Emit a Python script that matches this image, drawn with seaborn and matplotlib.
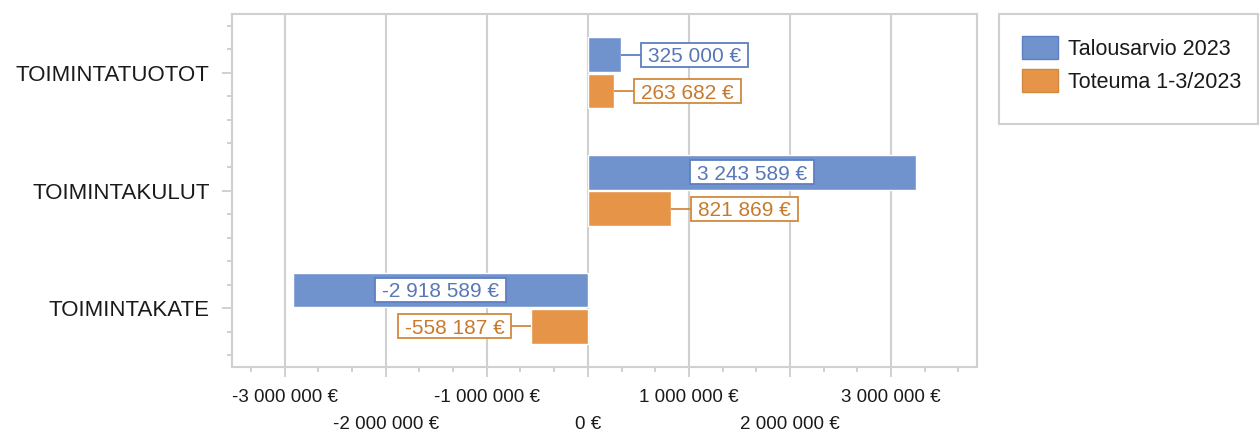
import pandas as pd
import seaborn as sns
import matplotlib.pyplot as plt
from matplotlib.ticker import MultipleLocator, FixedLocator
from matplotlib.patches import Patch, Rectangle
from matplotlib.transforms import IdentityTransform, offset_copy

categories = ['TOIMINTATUOTOT', 'TOIMINTAKULUT', 'TOIMINTAKATE']
series = ['Talousarvio 2023', 'Toteuma 1-3/2023']
budget = [325000, 3243589, -2918589]
actual = [263682, 821869, -558187]
x_ticks = [-3000000, -2000000, -1000000, 0, 1000000, 2000000, 3000000]

bar_colors = ['#7093CD', '#E69548']
edge_colors = ['#5E7FC0', '#D2893F']
text_colors = ['#5877B6', '#C77A2E']

def eur(v):
    return f"{v:,.0f}".replace(',', ' ') + ' €'

df = pd.DataFrame({
    'kategoria': categories * 2,
    'arvo': budget + actual,
    'sarja': [series[0]] * 3 + [series[1]] * 3,
})

sns.set_style('white')
plt.rcParams['font.family'] = ['Liberation Sans', 'DejaVu Sans']

fig = plt.figure(figsize=(12.6, 4.34), dpi=100)
ax = fig.add_axes([232 / 1260, 1 - 367 / 434, (977 - 232) / 1260, (367 - 14) / 434])

sns.barplot(data=df, y='kategoria', x='arvo', hue='sarja', orient='h',
            palette=bar_colors, saturation=1, width=0.62, gap=0.05,
            order=categories, hue_order=series, ax=ax, legend=False)

ax.set_xlim(-3520000, 3850000)
ax.set_ylim(2.5, -0.5)
ax.set_xlabel('')
ax.set_ylabel('')

# grid + frame
ax.set_axisbelow(True)
ax.xaxis.set_major_locator(FixedLocator(x_ticks))
ax.xaxis.set_minor_locator(MultipleLocator(1000000 / 3))
ax.yaxis.set_minor_locator(MultipleLocator(0.2))
ax.grid(axis='x', which='major', color='#d0d0d0', linewidth=1.5)
for sp in ax.spines.values():
    sp.set_color('#d0d0d0')
    sp.set_linewidth(1.5)

ax.set_xticks(x_ticks)
ax.set_xticklabels([eur(t) for t in x_ticks], fontsize=13.5, color='#1a1a1a')
ax.set_yticks(range(len(categories)))
ax.set_yticklabels(categories, fontsize=16, color='#1a1a1a')
ax.tick_params(axis='both', which='major', direction='out', length=7,
               width=1.2, color='#c8c8c8', bottom=True, left=True)
ax.tick_params(axis='both', which='minor', direction='out', length=3.5,
               width=1.2, color='#c8c8c8', bottom=True, left=True)
ax.tick_params(axis='y', which='major', pad=9)
ax.tick_params(axis='x', which='major', pad=9)

# staggered x tick labels
for i, tick in enumerate(ax.xaxis.get_major_ticks()):
    if i % 2 == 1:
        tick.set_pad(28)

# value labels: text first, boxes and leader lines after a draw
labels = []
for k, cont in enumerate(ax.containers):
    for bar in cont:
        val = bar.get_width()
        yc = bar.get_y() + bar.get_height() / 2
        if abs(val) > 2000000:
            t = ax.text(val / 2, yc, eur(val), ha='center', va='center_baseline',
                        fontsize=15, color=text_colors[k], zorder=6)
            labels.append((t, k, None, yc))
        else:
            sgn = 1 if val >= 0 else -1
            tr = offset_copy(ax.transData, fig=fig, x=sgn * 27, y=0, units='dots')
            t = ax.text(val, yc, eur(val), transform=tr, ha='left' if sgn > 0 else 'right',
                        va='center_baseline', fontsize=15, color=text_colors[k], zorder=6)
            labels.append((t, k, val, yc))

fig.canvas.draw()
renderer = fig.canvas.get_renderer()
for t, k, val, yc in labels:
    bb = t.get_window_extent(renderer)
    ymid = ax.transData.transform((0, yc))[1]
    x0, x1 = bb.x0 - 7, bb.x1 + 7
    h = 24
    ax.add_patch(Rectangle((x0, ymid - h / 2), x1 - x0, h, transform=IdentityTransform(),
                           fc='white', ec=edge_colors[k], lw=1.3, zorder=5))
    if val is not None:
        xe = x0 if val >= 0 else x1
        xe_data = ax.transData.inverted().transform((xe, ymid))[0]
        ax.plot([val, xe_data], [yc, yc], color=edge_colors[k], lw=1.3, zorder=4,
                solid_capstyle='butt')

# legend with hand-drawn frame
handles = [Patch(facecolor=c, edgecolor=e, lw=1) for c, e in zip(bar_colors, edge_colors)]
leg = fig.legend(handles, series, loc='upper left', bbox_to_anchor=(1022 / 1260, 1 - 36 / 434),
                 fontsize=15.5, frameon=False, handlelength=1.67, handleheight=1.25,
                 labelspacing=0.45, borderpad=0, handletextpad=0.47, borderaxespad=0)
for t in leg.get_texts():
    t.set_color('#1a1a1a')
fig.patches.append(Rectangle((999 / 1260, 1 - 124 / 434), 259 / 1260, 110 / 434,
                             transform=fig.transFigure, fc='white', ec='#d0d0d0',
                             lw=1.5, zorder=0))

fig.savefig('out.png', dpi=100)
